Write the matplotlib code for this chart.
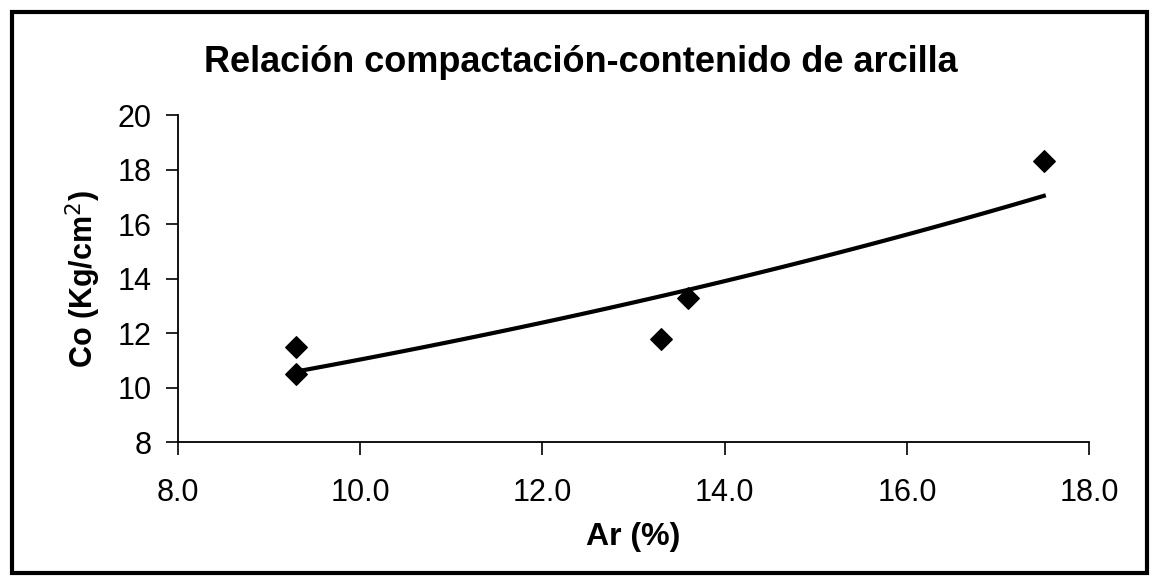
import numpy as np
import matplotlib
matplotlib.use('Agg')
import matplotlib.pyplot as plt
from matplotlib.patches import Rectangle

plt.rcParams['font.family'] = ['Liberation Sans', 'DejaVu Sans']

# clay content (%) vs compaction (Kg/cm2)
ar = [9.3, 9.3, 13.3, 13.6, 17.5]
co = [11.5, 10.5, 11.8, 13.3, 18.3]

x_ticks = [8.0, 10.0, 12.0, 14.0, 16.0, 18.0]
y_ticks = [8, 10, 12, 14, 16, 18, 20]


def exp_trend(x, y):
    # excel style exponential trendline: y = a*e^(b*x)
    b, ln_a = np.polyfit(x, np.log(y), 1)
    xs = np.linspace(min(x), max(x), 100)
    return xs, np.exp(ln_a) * np.exp(b * xs)


def main():
    fig = plt.figure(figsize=(11.54, 5.81), dpi=100)
    ax = fig.add_axes([0.154, 0.239, 0.790, 0.563])

    xs, ys = exp_trend(ar, co)
    ax.plot(xs, ys, color='black', lw=3)
    ax.scatter(ar, co, marker='D', s=120, color='black', zorder=3)

    ax.set_xlim(8, 18)
    ax.set_ylim(8, 20)
    ax.set_xticks(x_ticks)
    ax.set_xticklabels([f'{t:.1f}' for t in x_ticks])
    ax.set_yticks(y_ticks)
    for s in ['top', 'right']:
        ax.spines[s].set_visible(False)
    for s in ['left', 'bottom']:
        ax.spines[s].set_linewidth(1.3)
    ax.tick_params(direction='out', length=9, width=1.2, labelsize=22)
    ax.tick_params(axis='x', pad=17)
    ax.tick_params(axis='y', pad=10)

    # title centred on the chart area, not on the plot area
    fig.text(0.503, 0.893, 'Relación compactación-contenido de arcilla', fontsize=26,
             fontweight='bold', ha='center', va='center')
    ax.set_xlabel('Ar (%)', fontsize=23, fontweight='bold', labelpad=10)
    ax.set_ylabel('Co (Kg/cm$^2$)', fontsize=22, fontweight='bold', labelpad=10)

    # frame round the whole chart, like the excel chart area
    fig.patches.append(Rectangle((0.010, 0.014), 0.984, 0.965, transform=fig.transFigure,
                                 fill=False, edgecolor='black', lw=3))

    fig.savefig('out.png', dpi=100)
    plt.close(fig)


if __name__ == "__main__":
    main()
